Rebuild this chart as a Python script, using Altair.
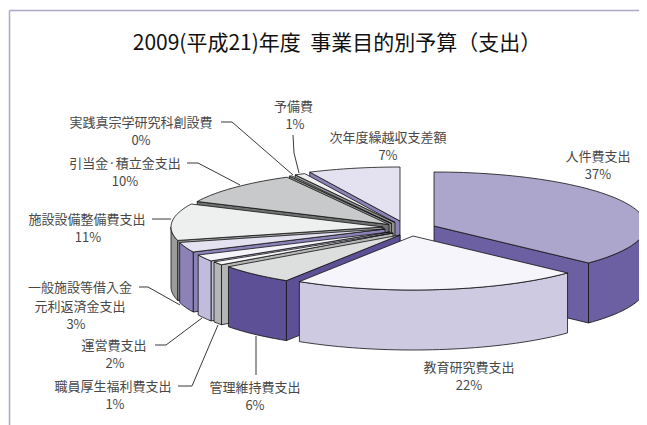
import math
import altair as alt

TITLE = "2009(平成21)年度\u00a0\u00a0事業目的別予算（支出）"
categories = ["人件費支出", "教育研究費支出", "管理維持費支出", "職員厚生福利費支出", "運営費支出",
              "一般施設等借入金元利返済金支出", "施設設備整備費支出", "引当金·積立金支出",
              "実践真宗学研究科創設費", "予備費", "次年度繰越収支差額"]
shares = [37, 22, 6, 1, 2, 3, 11, 10, 0.2, 0.8, 7]
top_colors = ["#ADA6CC", "#F6F5FB", "#DDDFDE", "#F8F8F8", "#F5F4FA", "#E4E2F0", "#EEF0EF",
              "#C8C9CA", "#D8D8D8", "#EFEFF0", "#E4E2F0"]
wall_colors = ["#6C5FA2", "#CECAE2", "#5E5096", "#B4B6B5", "#C2BCDC", "#8C82B8", "#9A9C9B",
               "#6F7070", "#8A8B8B", "#8F9090", "#8C82B8"]
# exploded apex of each slice on the page
apex_x = [434, 413, 400, 393, 390, 385, 383, 389, 391.5, 395, 400]
apex_y = [226, 236, 235, 233, 232, 229, 227, 224.5, 223.5, 222.5, 221]
RX, RY, DEPTH = 212, 54, 60
W, H = 631, 417
OX, OY = 8, 8

label_lines = [
    ("人件費支出", 598, 157), ("37%", 598, 175),
    ("教育研究費支出", 469, 368), ("22%", 469, 386),
    ("管理維持費支出", 255, 387.5), ("6%", 255, 405.5),
    ("職員厚生福利費支出", 113, 387), ("1%", 115, 405),
    ("運営費支出", 114, 346), ("2%", 115, 364),
    ("一般施設等借入金", 80, 288), ("元利返済金支出", 80, 306.5), ("3%", 76, 324.5),
    ("施設設備整備費支出", 87, 220), ("11%", 88, 238),
    ("引当金·積立金支出", 125, 164), ("10%", 125, 182),
    ("実践真宗学研究科創設費", 141, 122.5), ("0%", 141, 140.5),
    ("予備費", 293.5, 107), ("1%", 295, 125),
    ("次年度繰越収支差額", 388, 138), ("7%", 388, 156),
]
leaders = [
    [(221, 122), (232, 122), (293, 175)],
    [(293, 135), (294, 153), (299, 173)],
    [(187, 163), (198, 163), (240, 185)],
    [(152, 219), (171, 219)],
    [(139, 287), (148, 287), (180, 305)],
    [(155, 345), (166, 345), (202, 318)],
    [(178, 386), (192, 386), (218, 325)],
    [(256, 375), (256, 336)],
]


def pt(cx, cy, deg):
    r = math.radians(deg)
    return [cx + RX * math.sin(r), cy - RY * math.cos(r)]


def arc(cx, cy, a, b):
    n = max(2, int(abs(b - a) / 2) + 2)
    return [pt(cx, cy, a + (b - a) * i / (n - 1)) for i in range(n)]


def feat(ring, fill):
    ring = ring + [ring[0]]
    return {"type": "Feature", "properties": {"fill": fill},
            "geometry": {"type": "Polygon", "coordinates": [ring]}}


def down(p):
    return [p[0], p[1] + DEPTH]


starts = []
acc = 0
for s in shares:
    starts.append(acc * 3.6)
    acc += s

order = [10, 9, 8, 7, 6, 5, 4, 3, 2, 0, 1]
features = []
for i in order:
    a = starts[i]
    b = a + shares[i] * 3.6
    cx, cy = apex_x[i], apex_y[i]
    apex = [cx, cy]
    wall, top = wall_colors[i], top_colors[i]
    if math.sin(math.radians(a)) < 0:
        p = pt(cx, cy, a)
        features.append(feat([apex, p, down(p), down(apex)], wall))
    if math.sin(math.radians(b)) > 0:
        p = pt(cx, cy, b)
        features.append(feat([apex, p, down(p), down(apex)], wall))
    lo, hi = max(a, 90), min(b, 270)
    if hi > lo:
        edge = arc(cx, cy, lo, hi)
        features.append(feat(edge + [down(p) for p in reversed(edge)], wall))
    features.append(feat([apex] + arc(cx, cy, a, b), top))

xs = alt.Scale(domain=[OX, OX + W], range=[0, W])
ys = alt.Scale(domain=[OY, OY + H], range=[0, H])
X = alt.X("x:Q", scale=xs, axis=None)
Y = alt.Y("y:Q", scale=ys, axis=None)

pie = alt.Chart(alt.Data(values=features)).mark_geoshape(
    stroke="#111111", strokeWidth=0.8, strokeJoin="round"
).encode(fill=alt.Fill("properties.fill:N", scale=None)).project(
    type="identity", scale=1, translate=[-OX, -OY]
)

leader_rows = [
    {"id": k, "n": n, "x": p[0], "y": p[1]}
    for k, pts in enumerate(leaders) for n, p in enumerate(pts)
]
leader_layer = alt.Chart(alt.Data(values=leader_rows)).mark_line(
    color="#222222", strokeWidth=0.9
).encode(x=X, y=Y, detail="id:N", order="n:Q")

frame_rows = [
    {"id": 0, "n": 0, "x": 9.5, "y": 10.5},
    {"id": 0, "n": 1, "x": OX + W, "y": 10.5},
    {"id": 1, "n": 0, "x": 9.5, "y": 10.5},
    {"id": 1, "n": 1, "x": 9.5, "y": OY + H},
]
frame = alt.Chart(alt.Data(values=frame_rows)).mark_line(
    color="#ABA7CB", strokeWidth=1.5
).encode(x=X, y=Y, detail="id:N", order="n:Q")

text_rows = [{"t": t, "x": x, "y": y} for t, x, y in label_lines]
labels = alt.Chart(alt.Data(values=text_rows)).mark_text(
    font="Noto Sans CJK JP", fontSize=13, color="#484848", align="center", baseline="middle"
).encode(x=X, y=Y, text="t:N")

title = alt.Chart(alt.Data(values=[{"t": TITLE, "x": 337, "y": 44}])).mark_text(
    font="Noto Sans CJK JP", fontSize=21, color="#111111", align="center", baseline="middle"
).encode(x=X, y=Y, text="t:N")

chart = alt.layer(frame, pie, leader_layer, labels, title).properties(
    width=W, height=H, padding=0, autosize=alt.AutoSizeParams(type="none"),
    background="white"
).configure_view(stroke=None)

chart.save("out.html", embed_options={"renderer": "svg", "actions": False})
